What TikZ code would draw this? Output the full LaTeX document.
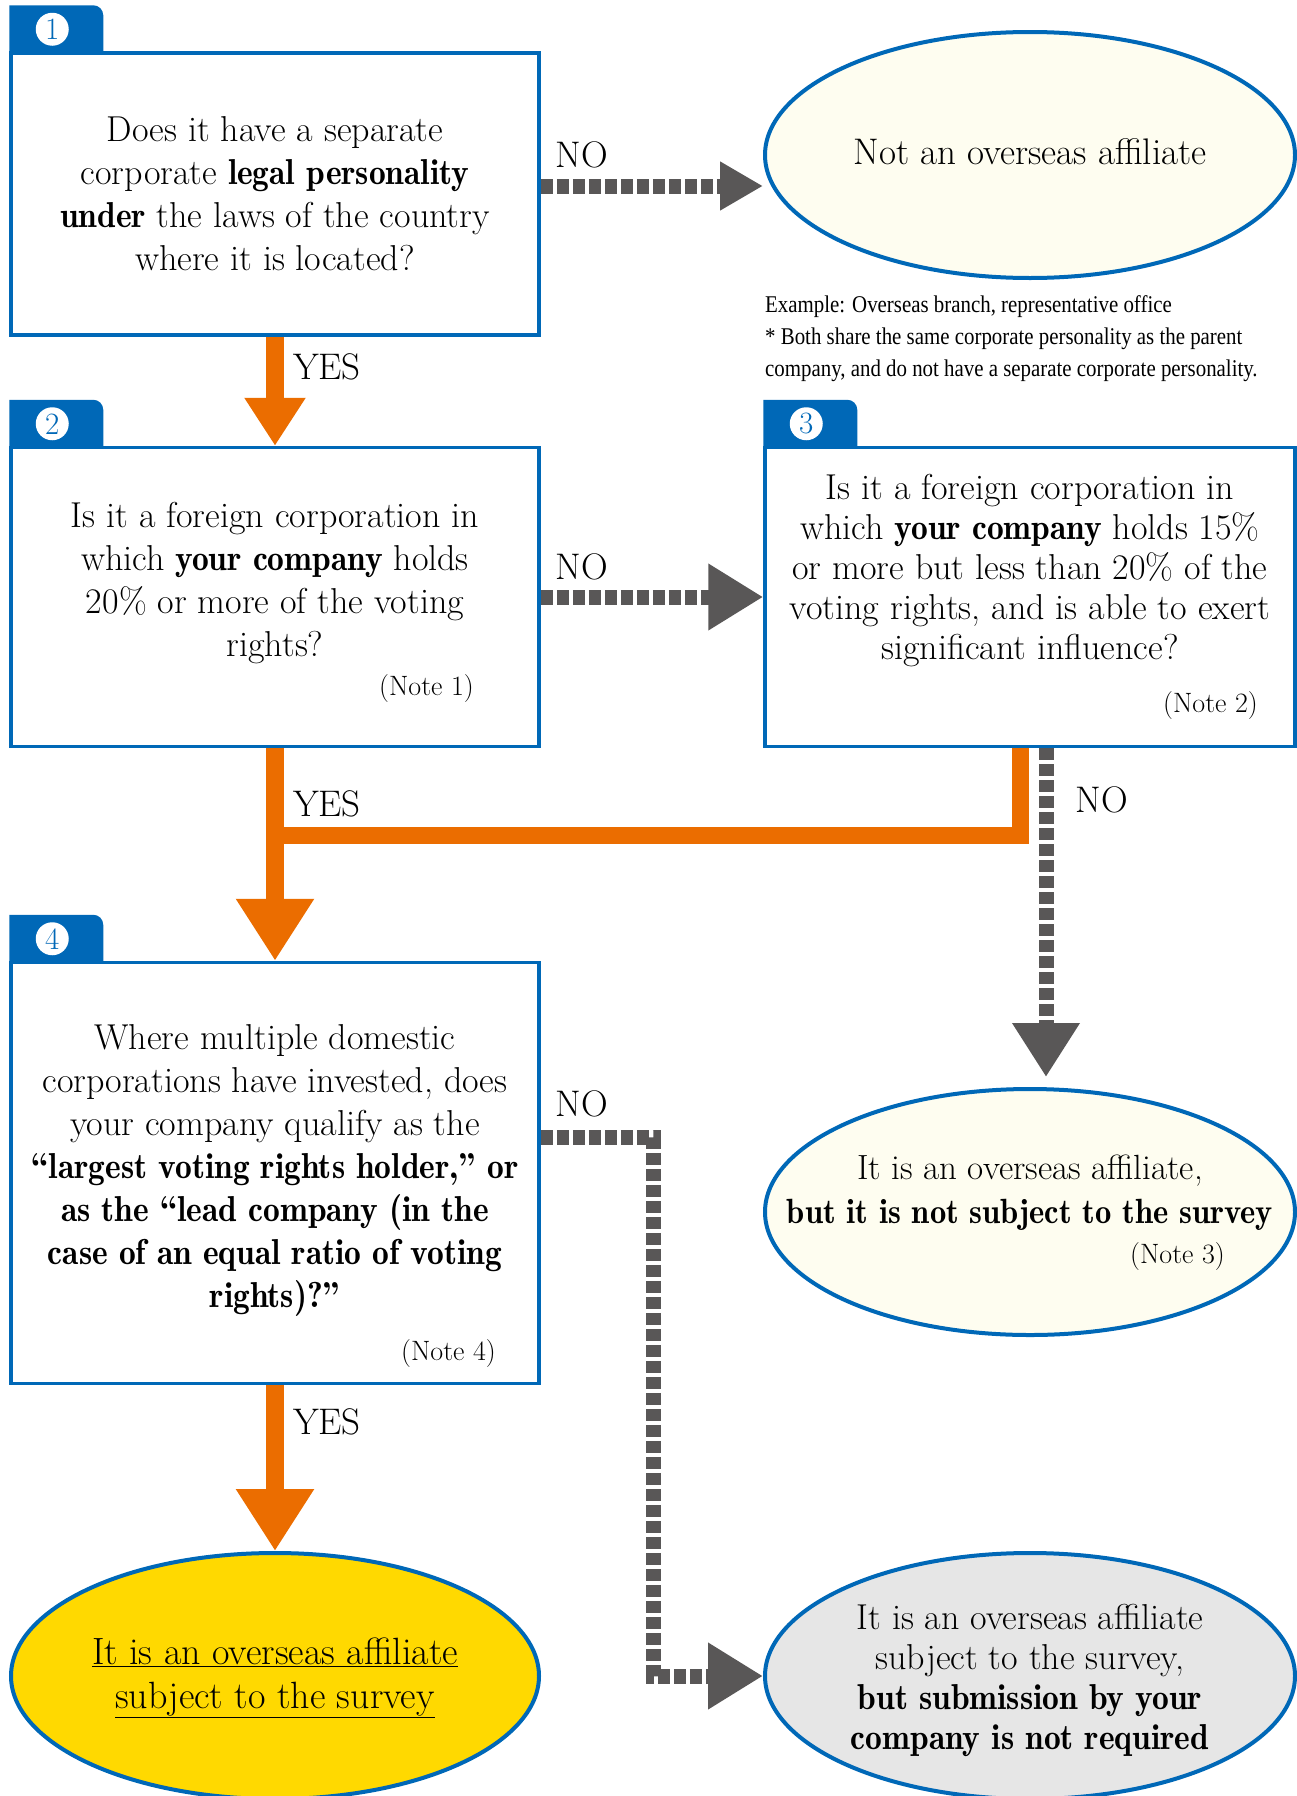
\documentclass[tikz,border=0pt]{standalone}
\usepackage{fontspec}
\usetikzlibrary{arrows.meta,shapes.geometric,positioning}
\newfontfamily\condfont[FakeStretch=0.87]{Liberation Serif}
\newfontfamily\demifont[FakeStretch=0.93]{lmromandemi10-regular.otf}
\newcommand\kw[1]{{\demifont #1}}

\definecolor{frameblue}{HTML}{0068B7}
\definecolor{yesorange}{HTML}{EB6D00}
\definecolor{nogray}{HTML}{595757}
\definecolor{creamfill}{HTML}{FEFDF0}
\definecolor{goldfill}{HTML}{FFD900}
\definecolor{greyfill}{HTML}{E6E6E6}

\tikzset{
  qbox/.style={draw=frameblue, line width=3.5pt, fill=white, minimum width=528pt, inner sep=0pt},
  qtext/.style={align=center, font=\fontsize{36}{43}\selectfont, inner sep=0pt},
  notetext/.style={font=\fontsize{28}{30}\selectfont, inner sep=0pt, anchor=east},
  endoval/.style={ellipse, draw=frameblue, line width=4pt, fill=creamfill, minimum width=530pt, minimum height=246pt, inner sep=0pt},
  numdot/.style={circle, fill=white, text=frameblue, minimum size=33pt, inner sep=0pt, font=\fontsize{31}{31}\selectfont},
  yesline/.style={draw=yesorange, line width=18pt},
  noline/.style={draw=nogray, line width=15pt, dash pattern=on 12pt off 4pt},
  lbl/.style={font=\fontsize{37}{37}\selectfont, inner sep=0pt},
}

\begin{document}
\begin{tikzpicture}[x=1pt,y=-1pt]
\useasboundingbox (0,0) rectangle (1296,1796);

% Question boxes
\node[qbox, minimum height=282pt] (q1) at (275,194) {};
\node[qbox, minimum height=299pt] (q2) at (275,597) {};
\node[qbox, minimum width=530pt, minimum height=299pt] (q3) at (1030,597) {};
\node[qbox, minimum height=421pt] (q4) at (275,1173) {};

% Number tabs
\foreach \b/\n in {q1/1,q2/2,q3/3,q4/4}{
  \fill[frameblue] (\b.north west) -- ([yshift=46pt]\b.north west) -- ([xshift=84pt,yshift=46pt]\b.north west)
    arc[start angle=90,end angle=0,radius=10pt] -- ([xshift=94pt]\b.north west) -- cycle;
  \node[numdot] (c\n) at ([xshift=43pt,yshift=22pt]\b.north west) {\n};
}

% Question texts
\node[qtext] (t1) at (q1) {Does it have a separate\\ corporate \kw{legal personality}\\ \kw{under} the laws of the country\\ where it is located?};
\node[qtext] (t2) at ([yshift=14pt]q2.center) {Is it a foreign corporation in\\ which \kw{your company} holds\\ 20\% or more of the voting\\ rights?};
\node[notetext] (n1) at (474,689) {(Note 1)};
\node[qtext, font=\fontsize{36}{40}\selectfont] (t3) at ([yshift=26.5pt]q3.center) {Is it a foreign corporation in\\ which \kw{your company} holds 15\%\\ or more but less than 20\% of the\\ voting rights, and is able to exert\\ significant influence?};
\node[notetext] (n2) at (1258,706) {(Note 2)};
\node[qtext] (t4) at ([yshift=3pt]q4.center) {Where multiple domestic\\ corporations have invested, does\\ your company qualify as the\\ \kw{“largest voting rights holder,” or}\\ \kw{as the “lead company (in the}\\ \kw{case of an equal ratio of voting}\\ \kw{rights)?”}};
\node[notetext] (n4) at (496,1353) {(Note 4)};

% Outcomes
\node[endoval] (nooa) at (1030,155) {};
\node[qtext, font=\fontsize{37}{43}\selectfont] (e1) at ([yshift=3.5pt]nooa.center) {Not an overseas affiliate};
\node[font=\condfont\fontsize{24}{32}\selectfont, align=left, anchor=west, inner sep=0pt] (ex) at (765,339) {Example: Overseas branch, representative office\\ * Both share the same corporate personality as the parent\\ company, and do not have a separate corporate personality.};
\node[endoval] (nosub) at (1030,1212) {};
\node[qtext, font=\fontsize{35}{44}\selectfont] (e3) at ([yshift=19pt]nosub.center) {It is an overseas affiliate,\\ \kw{but it is not subject to the survey}};
\node[notetext] (n3) at (1225,1256) {(Note 3)};
\node[endoval, fill=goldfill, minimum width=528pt] (subj) at (275,1676) {};
\node[qtext, font=\fontsize{38}{44}\selectfont] (e4) at ([yshift=-2pt]subj.center) {\underline{It is an overseas affiliate}\\ \underline{subject to the survey}};
\node[endoval, fill=greyfill] (notreq) at (1030,1676) {};
\node[qtext, font=\fontsize{36}{40}\selectfont] (e5) at ([yshift=-4pt]notreq.center) {It is an overseas affiliate\\ subject to the survey,\\ \kw{but submission by your}\\ \kw{company is not required}};

% YES connectors
\draw[yesline, -{Triangle[length=48pt,width=58pt]}] (q1.south) -- (q2.north);
\draw[yesline, -{Triangle[length=62pt,width=74pt]}] (q2.south) -- (q4.north);
\coordinate (merge) at ([yshift=-87pt]q2.south);
\draw[yesline, line width=17pt] ([xshift=-10pt]q3.south) |- (merge);
\draw[yesline, -{Triangle[length=62pt,width=74pt]}] (q4.south) -- (subj.north);

% NO connectors
\coordinate (no1s) at ([yshift=8pt]q1.east);
\draw[noline, -{Triangle[length=43pt,width=46pt]}] (no1s) -- (no1s -| nooa.west);
\draw[noline, -{Triangle[length=55pt,width=63pt]}] (q2.east) -- (q3.west);
\draw[noline, -{Triangle[length=54pt,width=64pt]}] ([xshift=16pt]q3.south) -- ([xshift=16pt,yshift=10pt]nosub.north);
\draw[noline, -{Triangle[length=55pt,width=63pt]}] ([yshift=36pt]q4.east) -| ([xshift=-110pt]notreq.west) -- (notreq.west);

% Labels
\node[lbl] (no1) at (582,155) {NO};
\node[lbl] (no2) at (582,567) {NO};
\node[lbl] (no3) at (1102,800) {NO};
\node[lbl] (no4) at (582,1104) {NO};
\node[lbl] (yes1) at (327,367) {YES};
\node[lbl] (yes2) at (327,804) {YES};
\node[lbl] (yes3) at (327,1422) {YES};
\end{tikzpicture}
\end{document}
